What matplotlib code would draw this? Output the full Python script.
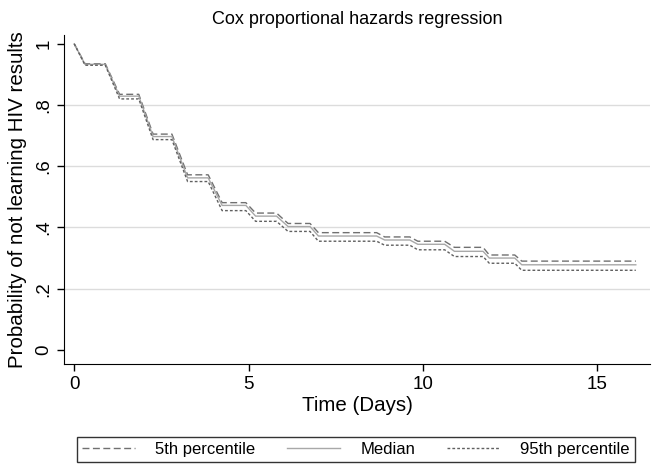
import matplotlib
matplotlib.use("Agg")
import matplotlib.pyplot as plt

plt.rcParams["font.family"] = ["Liberation Sans", "DejaVu Sans"]

# Zeitpunkte (Tage) der Stufen
days = [0, 0.31, 0.89, 1.30, 1.85, 2.26, 2.80, 3.25, 3.84, 4.24, 4.92, 5.20, 5.80,
        6.13, 6.76, 7.00, 8.67, 8.90, 9.62, 9.85, 10.62, 10.90, 11.72, 11.90,
        12.63, 12.83, 16.10]

# Überlebenswahrscheinlichkeiten
p5 = [1.0, 0.935, 0.935, 0.835, 0.835, 0.705, 0.705, 0.572, 0.572, 0.481, 0.481,
      0.447, 0.447, 0.413, 0.413, 0.383, 0.383, 0.369, 0.369, 0.355, 0.355,
      0.335, 0.335, 0.310, 0.310, 0.290, 0.290]
median = [1.0, 0.933, 0.933, 0.829, 0.829, 0.697, 0.697, 0.562, 0.562, 0.472, 0.472,
          0.437, 0.437, 0.403, 0.403, 0.372, 0.372, 0.359, 0.359, 0.345, 0.345,
          0.322, 0.322, 0.300, 0.300, 0.278, 0.278]
p95 = [1.0, 0.930, 0.930, 0.820, 0.820, 0.687, 0.687, 0.550, 0.550, 0.455, 0.455,
       0.420, 0.420, 0.387, 0.387, 0.355, 0.355, 0.342, 0.342, 0.327, 0.327,
       0.305, 0.305, 0.283, 0.283, 0.260, 0.260]

yticks = [0, 0.2, 0.4, 0.6, 0.8, 1.0]
ytick_labels = ["0", ".2", ".4", ".6", ".8", "1"]
xticks = [0, 5, 10, 15]

fig = plt.figure(figsize=(6.61, 4.66), dpi=100)
ax = fig.add_axes([0.097, 0.219, 0.886, 0.706])

for y in [0.2, 0.4, 0.6, 0.8]:
    ax.axhline(y, color="#dcdcdc", lw=1, zorder=0)

ax.plot(days, p5, color="#707070", lw=1, ls=(0, (5, 2.5)), label="5th percentile")
ax.plot(days, median, color="#a8a8a8", lw=1, ls="-", label="Median")
ax.plot(days, p95, color="#606060", lw=1, ls=(0, (2, 1.5)), label="95th percentile")

ax.set_xlim(-0.29, 16.5)
ax.set_ylim(-0.046, 1.029)
ax.set_xticks(xticks)
ax.set_yticks(yticks)
ax.set_yticklabels(ytick_labels, rotation=90, va="center")
ax.tick_params(labelsize=13.5, length=5, width=1, color="black")
for side in ["top", "right"]:
    ax.spines[side].set_visible(False)

ax.set_title("Cox proportional hazards regression", fontsize=13, pad=8)
ax.set_xlabel("Time (Days)", fontsize=14.8, labelpad=2)
ax.set_ylabel("Probability of not learning HIV results", fontsize=14.8, labelpad=6)

leg = fig.legend(loc="center", bbox_to_anchor=(0.538, 0.036), ncol=3, fontsize=12,
                 frameon=True, fancybox=False, edgecolor="black", handlelength=3.2,
                 handletextpad=1.2, columnspacing=1.9, borderpad=0.3)
leg.get_frame().set_linewidth(1)

fig.savefig("out.png", dpi=100)
